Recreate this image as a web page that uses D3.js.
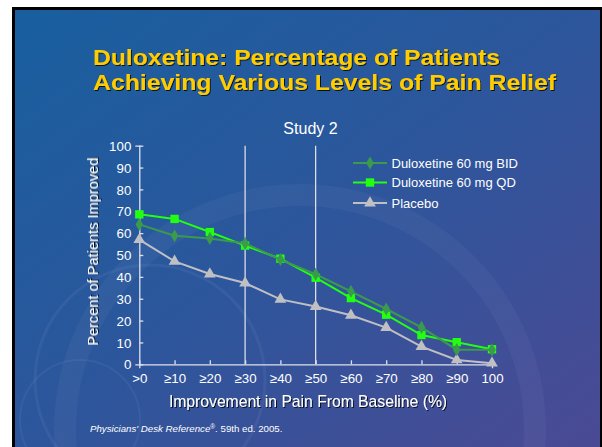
<!DOCTYPE html>
<html><head><meta charset="utf-8">
<script src="https://cdn.jsdelivr.net/npm/d3@7"></script>
<style>html,body{margin:0;padding:0;background:#fff;overflow:hidden}svg{display:block}</style>
</head><body>
<script>
const categories = [">0","≥10","≥20","≥30","≥40","≥50","≥60","≥70","≥80","≥90","100"];
const bid = [64.0, 58.8, 57.6, 55.3, 47.9, 41.2, 33.4, 25.3, 16.9, 6.7, 6.6];
const qd  = [68.6, 66.5, 60.5, 54.3, 48.3, 39.6, 30.3, 22.7, 13.4, 10.1, 6.9];
const placebo = [57.0, 47.1, 41.3, 37.2, 29.7, 26.4, 22.4, 16.8, 8.1, 2.0, 0.5];
const yTicks = [0,10,20,30,40,50,60,70,80,90,100];
const refLines = ["≥30","≥50"];
const seriesNames = ["Duloxetine 60 mg BID","Duloxetine 60 mg QD","Placebo"];

const W=602,H=447;
const svg=d3.select("body").append("svg").attr("width",W).attr("height",H);
const defs=svg.append("defs");
const g1=defs.append("linearGradient").attr("id","bg").attr("x1","0").attr("y1","0").attr("x2","1").attr("y2","1");
g1.append("stop").attr("offset","0").attr("stop-color","#185f9f");
g1.append("stop").attr("offset","0.5").attr("stop-color","#2d569c");
g1.append("stop").attr("offset","1").attr("stop-color","#4b4a94");
const sh=defs.append("filter").attr("id","sh").attr("x","-10%").attr("y","-30%").attr("width","120%").attr("height","160%");
sh.append("feDropShadow").attr("dx",1).attr("dy",1).attr("stdDeviation",0.3).attr("flood-color","#000").attr("flood-opacity",0.8);

// slide frame
svg.append("rect").attr("x",12).attr("y",7).attr("width",W-12).attr("height",H-7).attr("fill","#000");
svg.append("rect").attr("x",15).attr("y",10).attr("width",W-17).attr("height",H-10).attr("fill","url(#bg)");
// faint decorative circles
const deco=svg.append("g").attr("fill","none").attr("stroke","#ffffff");
deco.append("circle").attr("cx",150).attr("cy",380).attr("r",115).attr("stroke-opacity",0.05).attr("stroke-width",3);
deco.append("circle").attr("cx",300).attr("cy",430).attr("r",235).attr("stroke-opacity",0.04).attr("stroke-width",22);
deco.append("circle").attr("cx",80).attr("cy",420).attr("r",60).attr("stroke-opacity",0.05).attr("stroke-width",2);

const font="Liberation Sans, Arial, sans-serif";
// title (one text element, two lines)
const title=svg.append("text").attr("font-family",font).attr("font-weight","bold").attr("font-size",21.8).attr("fill","#ffcc00").attr("filter","url(#sh)");
title.append("tspan").attr("x",93).attr("y",64.8).attr("textLength",407).attr("lengthAdjust","spacingAndGlyphs").text("Duloxetine: Percentage of Patients");
title.append("tspan").attr("x",93).attr("y",89.6).attr("textLength",463).attr("lengthAdjust","spacingAndGlyphs").text("Achieving Various Levels of Pain Relief");

svg.append("text").attr("x",310.5).attr("y",134).attr("text-anchor","middle").attr("font-family",font).attr("font-size",16).attr("fill","#fff").text("Study 2");

const x=d3.scalePoint().domain(categories).range([139.3,492]);
const y=d3.scaleLinear().domain([0,100]).range([364.3,145.7]);

const chart=svg.append("g");
// reference lines
chart.selectAll(".ref").data(refLines).join("line")
  .attr("x1",d=>x(d)).attr("x2",d=>x(d)).attr("y1",y(100)).attr("y2",y(0))
  .attr("stroke","#e6e6f0").attr("stroke-width",1.2);

// axes
const ax=chart.append("g").attr("transform",`translate(0,${y(0)})`)
  .call(d3.axisBottom(x).tickSize(4).tickPadding(5));
const ay=chart.append("g").attr("transform",`translate(${x(categories[0])},0)`)
  .call(d3.axisLeft(y).tickValues(yTicks).tickSize(4).tickPadding(4));
[ax,ay].forEach(a=>{
  a.select(".domain").attr("stroke","#e0e0ea").attr("stroke-width",1.3);
  a.selectAll(".tick line").attr("stroke","#e0e0ea").attr("stroke-width",1.3);
  a.selectAll(".tick text").attr("fill","#fff").attr("font-family",font).attr("font-size",13.3);
});
ax.selectAll(".tick line").attr("y2",-4);
ay.selectAll(".tick line").attr("x2",4);
ay.selectAll(".tick text").attr("dy","0.35em");

// axis titles
svg.append("text").attr("transform",`translate(98,251.7) rotate(-90)`).attr("text-anchor","middle")
  .attr("font-family",font).attr("font-size",14.6).attr("fill","#fff").attr("filter","url(#sh)").text("Percent of Patients Improved");
svg.append("text").attr("x",308).attr("y",407).attr("text-anchor","middle")
  .attr("font-family",font).attr("font-size",15.7).attr("fill","#fff").attr("filter","url(#sh)").text("Improvement in Pain From Baseline (%)");

// citation
const cit=svg.append("text").attr("x",90).attr("y",432).attr("font-family",font).attr("font-size",9.7).attr("fill","#fff");
cit.append("tspan").attr("font-style","italic").text("Physicians' Desk Reference");
cit.append("tspan").attr("font-size",6.5).attr("dy",-3.5).text("®");
cit.append("tspan").attr("dy",3.5).text(". 59th ed. 2005.");

const series=[
  {name:seriesNames[0],vals:bid,color:"#3a9a4e",shape:d3.symbolDiamond,size:50,w:2},
  {name:seriesNames[1],vals:qd,color:"#22ff11",shape:d3.symbolSquare,size:70,w:2},
  {name:seriesNames[2],vals:placebo,color:"#c0c0c4",shape:d3.symbolTriangle,size:60,w:2}
];
const line=d3.line().x((d,i)=>x(categories[i])).y(d=>y(d));
const order=[2,1,0];
order.forEach(k=>{
  const s=series[k];
  const gg=chart.append("g");
  gg.append("path").datum(s.vals).attr("d",line).attr("fill","none").attr("stroke",s.color).attr("stroke-width",s.w);
  gg.selectAll("path.m").data(s.vals).join("path").attr("class","m")
    .attr("transform",(d,i)=>`translate(${x(categories[i])},${y(d)})`)
    .attr("d",d3.symbol().type(s.shape).size(s.size)).attr("fill",s.color);
});

// legend
const lg=svg.append("g");
const ly=[163,182.5,203];
series.forEach((s,i)=>{
  const r=lg.append("g").attr("transform",`translate(0,${ly[i]})`);
  r.append("line").attr("x1",353).attr("x2",387).attr("stroke",s.color).attr("stroke-width",2);
  r.append("path").attr("transform","translate(370,0)").attr("d",d3.symbol().type(s.shape).size(s.size)).attr("fill",s.color);
  r.append("text").attr("x",391.5).attr("y",0).attr("dy","0.35em").attr("font-family",font).attr("font-size",13).attr("fill","#fff").text(s.name);
});
</script>
</body></html>
